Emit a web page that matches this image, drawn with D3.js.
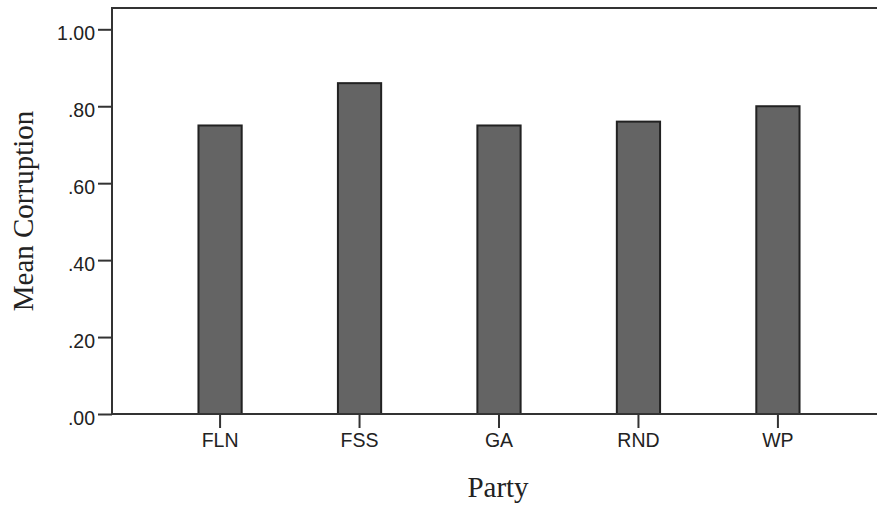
<!DOCTYPE html>
<html>
<head>
<meta charset="utf-8">
<script src="https://cdn.jsdelivr.net/npm/d3@7"></script>
<style>
  html, body { margin: 0; padding: 0; background: #fff; }
  svg { display: block; }
</style>
</head>
<body>
<svg id="chart" width="877" height="510"></svg>
<script>
const categories = ["FLN", "FSS", "GA", "RND", "WP"];
const meanCorruption = [0.75, 0.86, 0.75, 0.76, 0.80];
const yTicks = [0, 0.2, 0.4, 0.6, 0.8, 1.0];
const yTickLabels = [".00", ".20", ".40", ".60", ".80", "1.00"];
const xTitle = "Party";
const yTitle = "Mean Corruption";

(function () {
const svg = d3.select("#chart");
const mLeft = 112, mRight = 886, mTop = 8, mBottom = 414;

const x = d3.scaleBand().domain(categories).range([mLeft, mRight])
  .paddingInner(0.69).paddingOuter(0.62);
const y = d3.scaleLinear().domain([0, 1]).range([mBottom, 29.3]);

const axisColor = "#333";

// bars
svg.append("g").selectAll("rect").data(categories).join("rect")
  .attr("x", d => x(d))
  .attr("y", (d, i) => y(meanCorruption[i]))
  .attr("width", x.bandwidth())
  .attr("height", (d, i) => y(0) - y(meanCorruption[i]))
  .attr("fill", "#646464")
  .attr("stroke", "#222")
  .attr("stroke-width", 2);

// frame top line
svg.append("line").attr("x1", mLeft).attr("x2", 877).attr("y1", mTop).attr("y2", mTop)
  .attr("stroke", axisColor).attr("stroke-width", 2);

// y axis
const yAxis = d3.axisLeft(y).tickValues(yTicks)
  .tickFormat((d, i) => yTickLabels[i]).tickSize(14).tickPadding(3);
const gy = svg.append("g").attr("transform", `translate(${mLeft},0)`).call(yAxis);
gy.select(".domain").remove();
gy.selectAll(".tick line").attr("stroke", axisColor).attr("stroke-width", 2);
gy.selectAll(".tick text").attr("font-family", "'Liberation Sans', Arial, sans-serif")
  .attr("font-size", 19.5).attr("fill", "#222").attr("dy", "0.52em");
svg.append("line").attr("x1", mLeft).attr("x2", mLeft).attr("y1", mTop - 1).attr("y2", mBottom)
  .attr("stroke", axisColor).attr("stroke-width", 2);

// x axis
const xAxis = d3.axisBottom(x).tickSize(14).tickPadding(5);
const gx = svg.append("g").attr("transform", `translate(0,${mBottom})`).call(xAxis);
gx.select(".domain").remove();
gx.selectAll(".tick line").attr("stroke", axisColor).attr("stroke-width", 2);
gx.selectAll(".tick text").attr("font-family", "'Liberation Sans', Arial, sans-serif")
  .attr("font-size", 19.5).attr("fill", "#222");
svg.append("line").attr("x1", mLeft - 1).attr("x2", 877).attr("y1", mBottom).attr("y2", mBottom)
  .attr("stroke", axisColor).attr("stroke-width", 2);

// titles
svg.append("text").attr("x", 498).attr("y", 497).attr("text-anchor", "middle")
  .attr("font-family", "'Liberation Serif', 'Times New Roman', serif")
  .attr("font-size", 29).attr("fill", "#222").text(xTitle);
svg.append("text").attr("transform", "translate(33,211) rotate(-90)").attr("text-anchor", "middle")
  .attr("font-family", "'Liberation Serif', 'Times New Roman', serif")
  .attr("font-size", 29).attr("fill", "#222").text(yTitle);
})();
</script>
</body>
</html>
